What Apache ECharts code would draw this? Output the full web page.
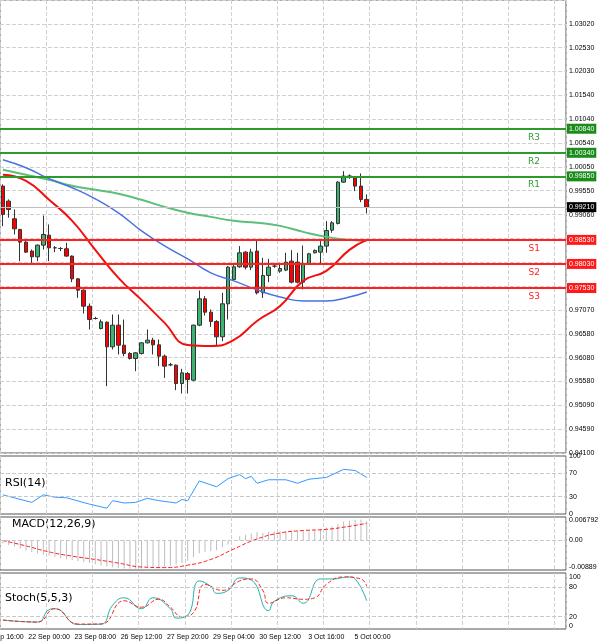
<!DOCTYPE html>
<html lang="en">
<head>
<meta charset="UTF-8" />
<script src="https://cdn.jsdelivr.net/npm/echarts@6/dist/echarts.min.js"></script>
<style>
  html, body { margin: 0; padding: 0; background: #fff; }
  #chart { width: 600px; height: 643px; }
</style>
</head>
<body>
<div id="chart"></div>
<script>
// 4H candles, EURUSD-like pair
var opens  = [0.99647,0.99335,0.98968,0.98746,0.98483,0.98296,0.98178,0.98420,0.98628,0.98365,0.98351,0.98344,0.98192,0.97720,0.97485,0.97152,0.96896,0.96688,0.96819,0.96307,0.96757,0.96341,0.96168,0.96064,0.96168,0.96390,0.96445,0.96348,0.96113,0.95933,0.95926,0.95544,0.95752,0.95614,0.96757,0.97305,0.97027,0.96833,0.96515,0.97201,0.97707,0.97970,0.98275,0.97963,0.98296,0.97429,0.97790,0.97984,0.97880,0.97901,0.98088,0.98067,0.97651,0.98039,0.98261,0.98275,0.98400,0.98732,0.98871,0.99730,0.99855,0.99820,0.99647,0.99370];
var closes = [0.99058,0.99162,0.98760,0.98483,0.98275,0.98178,0.98420,0.98642,0.98365,0.98365,0.98351,0.98192,0.97720,0.97485,0.97152,0.96875,0.96896,0.96826,0.96307,0.96757,0.96341,0.96168,0.96064,0.96182,0.96390,0.96445,0.96348,0.96113,0.95905,0.95933,0.95544,0.95766,0.95628,0.96757,0.97305,0.97027,0.96833,0.96515,0.97201,0.97963,0.97970,0.98261,0.97963,0.98275,0.97429,0.97790,0.97963,0.97984,0.97935,0.98067,0.97651,0.97651,0.98039,0.98240,0.98310,0.98400,0.98725,0.98885,0.99730,0.99855,0.99855,0.99647,0.99370,0.99210];
var lows   = [0.98815,0.98989,0.98642,0.98088,0.98261,0.98053,0.98088,0.98330,0.98088,0.98275,0.98296,0.98178,0.97651,0.97325,0.97000,0.96667,0.96875,0.96667,0.95489,0.96251,0.96147,0.96113,0.96043,0.95801,0.96147,0.96376,0.96147,0.95905,0.95662,0.95905,0.95406,0.95337,0.95337,0.95593,0.96736,0.96958,0.96722,0.96335,0.96425,0.96875,0.97686,0.97949,0.97915,0.97901,0.97395,0.97325,0.97651,0.97949,0.97845,0.97880,0.97624,0.97624,0.97499,0.98019,0.98247,0.98039,0.98261,0.98677,0.98850,0.99716,0.99799,0.99543,0.99314,0.99079];
var highs  = [0.99682,0.99370,0.99162,0.98760,0.98504,0.98330,0.98434,0.99037,0.98850,0.98400,0.98379,0.98469,0.98206,0.97734,0.97499,0.97208,0.96930,0.96875,0.96833,0.96979,0.96979,0.96875,0.96196,0.96196,0.96404,0.96667,0.96494,0.96459,0.96147,0.95974,0.95940,0.95849,0.95780,0.96771,0.97478,0.97360,0.97083,0.96861,0.97429,0.97984,0.98053,0.98400,0.98296,0.98344,0.98524,0.98157,0.98136,0.98053,0.98053,0.98261,0.98316,0.98261,0.98413,0.98261,0.98330,0.98504,0.98919,0.98919,0.99751,0.99959,0.99890,0.99855,0.99910,0.99474];

// moving averages, read every 4th candle
var maIdx   = [0,4,8,12,16,20,24,28,32,36,40,44,48,52,56,60,63];
var maRed   = [0.99882,0.99757,0.99362,0.98925,0.98322,0.97740,0.97282,0.96804,0.96346,0.96325,0.96450,0.96845,0.97157,0.97677,0.97885,0.98322,0.98530];
var maBlue  = [1.00194,1.00028,0.99799,0.99612,0.99383,0.99092,0.98717,0.98405,0.98135,0.97844,0.97677,0.97490,0.97344,0.97261,0.97261,0.97344,0.97448];
var maGreen = [0.99986,0.99882,0.99778,0.99653,0.99570,0.99487,0.99362,0.99216,0.99092,0.99008,0.98925,0.98884,0.98821,0.98696,0.98592,0.98530,0.98509];

var rsiIdx = [0,5,7,9,11,15,18,19,21,23,25,27,30,31,32,34,37,39,41,42,43,44,46,49,51,53,56,59,61,63];
var rsiVal = [33,20,33,29,28,17,10,23,19,20,27,23,19,25,23,57,47,61,68,61,65,53,59,59,53,60,63,77,75,63];

var macdHist = [-0.001,-0.0015,-0.002,-0.0027,-0.0033,-0.0038,-0.0043,-0.0047,-0.005,-0.0054,-0.0058,-0.0062,-0.0065,-0.0068,-0.0072,-0.0075,-0.0079,-0.0083,-0.0086,-0.0089,-0.0091,-0.0093,-0.0094,-0.0094,-0.0093,-0.0092,-0.0091,-0.009,-0.0087,-0.0084,-0.008,-0.0075,-0.0067,-0.0056,-0.0042,-0.0037,-0.0035,-0.0032,-0.0022,-0.0013,0.0001,0.0014,0.0019,0.0023,0.0027,0.0025,0.0028,0.003,0.003,0.003,0.003,0.003,0.0031,0.0032,0.0033,0.0038,0.0043,0.0047,0.0055,0.0063,0.0066,0.0068,0.007,0.0064];
var macdSigIdx = [0,4,8,12,16,20,24,28,32,36,40,44,48,52,56,60,63];
var macdSig    = [0,-0.0018,-0.0038,-0.0052,-0.0063,-0.0075,-0.0088,-0.009,-0.0082,-0.0063,-0.0028,0.0005,0.0025,0.0033,0.0037,0.0047,0.0057];

var stKIdx = [0,6,8,9,13,17,19,21,24,26,29,30,32,34,36,37,39,41,43,46,47,50,52,55,57,60,61,63];
var stK    = [13,9,34,36,4,5,43,58,36,58,36,17,23,92,81,67,73,98,94,32,51,62,47,96,96,100,96,52];
var stDIdx = [0,6,9,13,17,21,24,27,29,31,33,35,38,41,43,45,46,49,52,54,56,59,62,63];
var stD    = [13,9,36,5,5,52,39,55,39,20,28,85,73,92,96,73,47,58,55,58,85,100,96,81];

var dateLabels = ['20 Sep 16:00','22 Sep 00:00','23 Sep 08:00','26 Sep 12:00','27 Sep 20:00','29 Sep 04:00','30 Sep 12:00','3 Oct 16:00','5 Oct 00:00'];
var priceMin = 0.941, priceStep = 0.0049555;
var priceTicks = ['0.94100','0.94590','0.95090','0.95580','0.96080','0.96580','0.97070','0.97570','0.98070','0.98570','0.99060','0.99550','1.00050','1.00540','1.01040','1.01540','1.02030','1.02530','1.03020',''];
var resist = [['R1',0.99850],['R2',1.00340],['R3',1.00840]];
var support = [['S1',0.98530],['S2',0.98030],['S3',0.97530]];
var lastPrice = 0.99210;

var SLOTS = 98;
var cats = [];
for (var i = 0; i < SLOTS; i++) cats.push(i);
var candles = opens.map(function (o, i) { return [o, closes[i], lows[i], highs[i]]; });
function sparse(idx, vals) {
    var out = new Array(SLOTS).fill(null);
    idx.forEach(function (k, j) { out[k] = vals[j]; });
    return out;
}

var chart = echarts.init(document.getElementById('chart'));
var grids = [
    { left: 0, right: 34, top: 0, height: 453 },
    { left: 0, right: 34, top: 456, height: 58 },
    { left: 0, right: 34, top: 517, height: 53 },
    { left: 0, right: 34, top: 573, height: 56 }
];
var font = { fontFamily: 'Liberation Sans', fontSize: 7, color: '#000' };
var xAxes = grids.map(function (g, k) {
    return {
        type: 'category', gridIndex: k, data: cats, boundaryGap: true,
        axisLine: { show: false }, axisTick: { show: false },
        axisLabel: {
            show: k === 3, interval: 7, margin: 5, fontFamily: 'Liberation Sans', fontSize: 7, color: '#000',
            formatter: function (v) { return dateLabels[v / 8] || ''; }
        },
        splitLine: { show: true, interval: 7, lineStyle: { color: '#d0d0d0', type: 'dashed' } }
    };
});
function sideAxis(k, min, max, vals, fmt) {
    return {
        type: 'value', gridIndex: k, position: 'right', min: min, max: max,
        axisLine: { show: false }, axisTick: { show: false },
        axisLabel: Object.assign({ customValues: vals, formatter: fmt, margin: 3 }, font),
        splitLine: { show: false }
    };
}
var yAxes = [
    {
        type: 'value', gridIndex: 0, position: 'right', scale: true,
        min: priceMin, max: priceMin + priceStep * 19, interval: priceStep,
        axisLine: { show: false }, axisTick: { show: false },
        axisLabel: Object.assign({ margin: 3, formatter: function (v) {
            return priceTicks[Math.round((v - priceMin) / priceStep)] || '';
        } }, font),
        splitLine: { lineStyle: { color: '#d0d0d0', type: 'dashed' } }
    },
    sideAxis(1, 0, 100, [0, 30, 70, 100], null),
    sideAxis(2, -0.0098, 0.0078, [-0.00889, 0, 0.006792], function (v) {
        return v === 0 ? '0.00' : String(v);
    }),
    sideAxis(3, -5, 108, [0, 20, 80, 100], null)
];
function dashLines(vals) {
    return { silent: true, symbol: 'none', label: { show: false }, precision: 6,
        lineStyle: { color: '#c8c8c8', type: 'dashed', width: 1 },
        data: vals.map(function (v) { return { yAxis: v }; }) };
}
function levelLines(list, color) {
    return {
        name: 'lv' + color, type: 'line', data: [], xAxisIndex: 0, yAxisIndex: 0,
        markLine: {
            silent: true, symbol: 'none', animation: false, precision: 6,
            lineStyle: { color: color, width: 2, type: 'solid' },
            data: list.map(function (p) {
                return { yAxis: p[1], label: {
                    show: true, position: 'insideEndBottom', distance: [26, 4],
                    formatter: p[0], color: color, fontSize: 9, fontFamily: 'DejaVu Sans'
                } };
            })
        }
    };
}
function priceTags(list, bg, fg) {
    return {
        name: 'tag' + bg, type: 'line', data: [], xAxisIndex: 0, yAxisIndex: 0, z: 5,
        markLine: {
            silent: true, symbol: 'none', animation: false, precision: 6,
            lineStyle: { color: 'rgba(0,0,0,0)', width: 0 },
            data: list.map(function (p) {
                return { yAxis: p, label: {
                    show: true, position: 'end', distance: 1, formatter: p.toFixed(5),
                    backgroundColor: bg, color: fg, fontSize: 7, fontFamily: 'Liberation Sans',
                    padding: [2, 2, 1, 2]
                } };
            })
        }
    };
}

chart.setOption({
    animation: false,
    backgroundColor: '#fff',
    grid: grids.map(function (g) {
        return Object.assign({ show: true, borderColor: '#555', borderWidth: 1, containLabel: false, outerBoundsMode: 'none' }, g);
    }),
    xAxis: xAxes,
    yAxis: yAxes,
    graphic: [
        { type: 'text', left: 5, top: 478, style: { text: 'RSI(14)', fontSize: 11, fontFamily: 'DejaVu Sans', fill: '#000' } },
        { type: 'text', left: 12, top: 519, style: { text: 'MACD(12,26,9)', fontSize: 11, fontFamily: 'DejaVu Sans', fill: '#000' } },
        { type: 'text', left: 5, top: 593, style: { text: 'Stoch(5,5,3)', fontSize: 11, fontFamily: 'DejaVu Sans', fill: '#000' } }
    ],
    series: [
        levelLines(resist, '#2e9a2e'),
        levelLines(support, '#ff2020'),
        {
            name: 'last', type: 'line', data: [],
            markLine: {
                silent: true, symbol: 'none', animation: false, precision: 6,
                lineStyle: { color: '#c0c0c0', width: 1, type: 'solid' },
                data: [{ yAxis: lastPrice, label: { show: true, position: 'end', distance: 1,
                    formatter: lastPrice.toFixed(5), backgroundColor: '#000', color: '#fff',
                    fontSize: 7, fontFamily: 'Liberation Sans', padding: [2, 2, 1, 2] } }]
            }
        },
        priceTags(resist.map(function (p) { return p[1]; }), '#1a8c1a', '#fff'),
        priceTags(support.map(function (p) { return p[1]; }), '#ff1a1a', '#fff'),
        { name: 'MA green', type: 'line', data: sparse(maIdx, maGreen), connectNulls: true, smooth: true,
          showSymbol: false, lineStyle: { color: '#5cbf7a', width: 2 } },
        { name: 'MA blue', type: 'line', data: sparse(maIdx, maBlue), connectNulls: true, smooth: true,
          showSymbol: false, lineStyle: { color: '#4a72e0', width: 1.5 } },
        { name: 'MA red', type: 'line', data: sparse(maIdx, maRed), connectNulls: true, smooth: true,
          showSymbol: false, lineStyle: { color: '#f01010', width: 2 } },
        {
            name: 'price', type: 'candlestick', data: candles, barWidth: 4,
            itemStyle: { color: '#3cb371', color0: '#ff0000', borderColor: '#333', borderColor0: '#333', borderWidth: 1 }
        },
        { name: 'RSI', type: 'line', xAxisIndex: 1, yAxisIndex: 1, data: sparse(rsiIdx, rsiVal),
          connectNulls: true, showSymbol: false, lineStyle: { color: '#3399ff', width: 1 },
          markLine: dashLines([30, 70]) },
        { name: 'MACD', type: 'bar', xAxisIndex: 2, yAxisIndex: 2, data: macdHist, barWidth: 1,
          itemStyle: { color: '#bdbdbd' }, markLine: dashLines([0]) },
        { name: 'Signal', type: 'line', xAxisIndex: 2, yAxisIndex: 2, data: sparse(macdSigIdx, macdSig),
          connectNulls: true, smooth: true, showSymbol: false, lineStyle: { color: '#ff2020', width: 1, type: 'dashed' } },
        { name: 'K', type: 'line', xAxisIndex: 3, yAxisIndex: 3, data: sparse(stKIdx, stK),
          connectNulls: true, smooth: true, showSymbol: false, lineStyle: { color: '#20b2aa', width: 1 },
          markLine: dashLines([20, 80]) },
        { name: 'D', type: 'line', xAxisIndex: 3, yAxisIndex: 3, data: sparse(stDIdx, stD),
          connectNulls: true, smooth: true, showSymbol: false, lineStyle: { color: '#ff2020', width: 1, type: 'dashed' } }
    ]
});
</script>
</body>
</html>
